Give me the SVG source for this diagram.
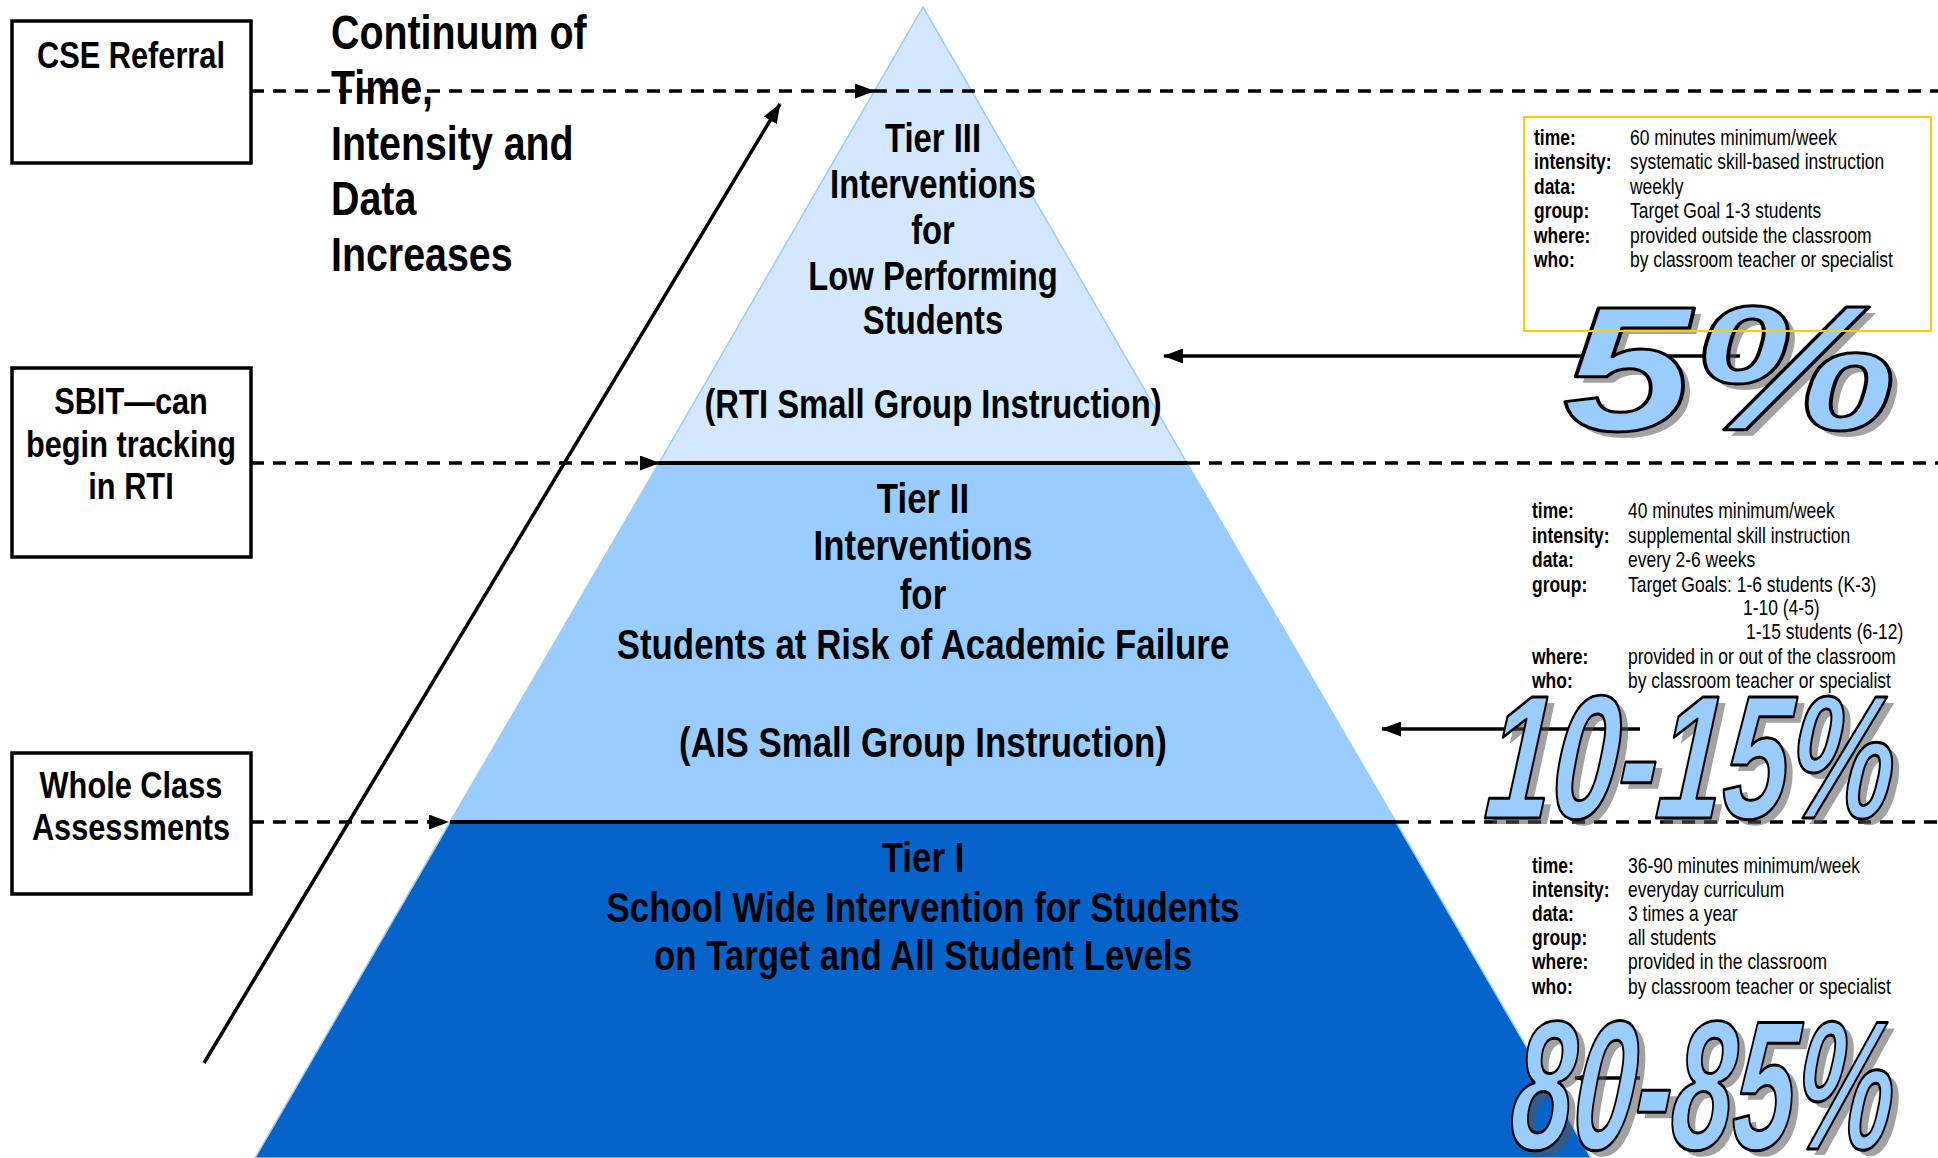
<svg xmlns="http://www.w3.org/2000/svg" width="1938" height="1158" viewBox="0 0 1938 1158">
<style>
.bx{fill:#fff;stroke:#000;stroke-width:3.5}
.bt{font-family:"Liberation Sans Narrow","Liberation Sans",Arial,sans-serif;font-weight:bold;font-size:37.5px;text-anchor:middle;fill:#000}
.ct{font-family:"Liberation Sans Narrow","Liberation Sans",Arial,sans-serif;font-weight:bold;font-size:48px;fill:#000}
.t3{font-family:"Liberation Sans Narrow","Liberation Sans",Arial,sans-serif;font-weight:bold;font-size:40px;text-anchor:middle;fill:#000}
.tt{font-family:"Liberation Sans Narrow","Liberation Sans",Arial,sans-serif;font-weight:bold;font-size:42.5px;text-anchor:middle;fill:#000}
.il{font-family:"Liberation Sans Narrow","Liberation Sans",Arial,sans-serif;font-weight:bold;font-size:21.3px;fill:#000}
.iv{font-family:"Liberation Sans Narrow","Liberation Sans",Arial,sans-serif;font-size:21.3px;fill:#000}
.dash{stroke:#000;stroke-width:3.5;stroke-dasharray:13 9;fill:none}
.sol{stroke:#000;stroke-width:4;fill:none}
.arr{stroke:#000;stroke-width:3.5;fill:none}
.pc{font-family:"Liberation Sans",Arial,sans-serif;font-weight:bold;font-style:italic;fill:#99CCFF;stroke:#000;stroke-width:3;stroke-linejoin:round}
.pcs{font-family:"Liberation Sans",Arial,sans-serif;font-weight:bold;font-style:italic;fill:#555;fill-opacity:0.55}
</style>
<defs>
<marker id="ah" markerWidth="20" markerHeight="15" refX="19" refY="7.5" orient="auto" markerUnits="userSpaceOnUse">
<path d="M0,0 L20,7.5 L0,15 Z" fill="#000"/>
</marker>
</defs>
<rect width="1938" height="1158" fill="#fff"/>

<g id="pyramid">
<polygon id="tier3" points="923,7 1187,463 659,463" fill="#D4E8FD" stroke="#99CCFF" stroke-width="1.5"/>
<polygon id="tier2" points="659,463 1187,463 1396,822 450,822" fill="#99CCFF" stroke="#99CCFF" stroke-width="1.5"/>
<polygon id="tier1" points="450,822 1396,822 1591,1158 255,1158" fill="#0563C9" stroke="#99CCFF" stroke-width="1.5"/>
</g>

<g id="connectors">
<line class="dash" x1="251" y1="91" x2="874" y2="91" marker-end="url(#ah)"/>
<line class="dash" x1="874" y1="91" x2="1938" y2="91"/>
<line class="dash" x1="251" y1="463" x2="659" y2="463" marker-end="url(#ah)"/>
<line class="sol" x1="659" y1="463" x2="1187" y2="463"/>
<line class="dash" x1="1187" y1="463" x2="1938" y2="463"/>
<line class="dash" x1="251" y1="822" x2="448" y2="822" marker-end="url(#ah)"/>
<line class="sol" x1="450" y1="822" x2="1396" y2="822"/>
<line class="dash" x1="1396" y1="822" x2="1938" y2="822"/>
<line class="arr" x1="204" y1="1063" x2="780" y2="104" marker-end="url(#ah)"/>
<line class="arr" x1="1740" y1="356" x2="1164" y2="356" marker-end="url(#ah)"/>
<line class="arr" x1="1640" y1="729" x2="1382" y2="729" marker-end="url(#ah)"/>
<line class="arr" x1="1640" y1="1078" x2="1575" y2="1078" marker-end="url(#ah)"/>
</g>

<g id="tier3-text">
<text class="t3" transform="translate(933 152) scale(0.82 1)">Tier III</text>
<text class="t3" transform="translate(933 198) scale(0.82 1)">Interventions</text>
<text class="t3" transform="translate(933 244) scale(0.82 1)">for</text>
<text class="t3" transform="translate(933 290) scale(0.82 1)">Low Performing</text>
<text class="t3" transform="translate(933 334) scale(0.82 1)">Students</text>
<text class="t3" transform="translate(933 418) scale(0.82 1)">(RTI Small Group Instruction)</text>
</g>
<g id="tier2-text">
<text class="tt" transform="translate(923 513) scale(0.82 1)">Tier II</text>
<text class="tt" transform="translate(923 560) scale(0.82 1)">Interventions</text>
<text class="tt" transform="translate(923 609) scale(0.82 1)">for</text>
<text class="tt" transform="translate(923 659) scale(0.82 1)">Students at Risk of Academic Failure</text>
<text class="tt" transform="translate(923 757) scale(0.82 1)">(AIS Small Group Instruction)</text>
</g>
<g id="tier1-text">
<text class="tt" transform="translate(923 872) scale(0.82 1)">Tier I</text>
<text class="tt" transform="translate(923 922) scale(0.82 1)">School Wide Intervention for Students</text>
<text class="tt" transform="translate(923 970) scale(0.82 1)">on Target and All Student Levels</text>
</g>

<g id="pct5">
<text class="pcs" x="1570" y="436" font-size="178" textLength="334" lengthAdjust="spacingAndGlyphs">5%</text>
<text class="pc" x="1563" y="430" font-size="178" textLength="334" lengthAdjust="spacingAndGlyphs">5%</text>
</g>
<g id="pct10">
<text class="pcs" transform="translate(1490 824) skewX(-5)" font-size="176" textLength="408" lengthAdjust="spacingAndGlyphs">10-15%</text>
<text class="pc" transform="translate(1483 818) skewX(-5)" font-size="176" textLength="408" lengthAdjust="spacingAndGlyphs">10-15%</text>
</g>
<g id="pct80">
<text class="pcs" transform="translate(1515 1155) skewX(-5)" font-size="184" textLength="382" lengthAdjust="spacingAndGlyphs">80-85%</text>
<text class="pc" transform="translate(1508 1149) skewX(-5)" font-size="184" textLength="382" lengthAdjust="spacingAndGlyphs">80-85%</text>
</g>

<g id="info3">
<rect x="1524" y="117" width="407" height="214" fill="none" stroke="#FFCC00" stroke-width="2"/>
<text class="il" transform="translate(1534 145) scale(0.82 1)">time:</text><text class="iv" transform="translate(1630 145) scale(0.82 1)">60 minutes minimum/week</text>
<text class="il" transform="translate(1534 169) scale(0.82 1)">intensity:</text><text class="iv" transform="translate(1630 169) scale(0.82 1)">systematic skill-based instruction</text>
<text class="il" transform="translate(1534 194) scale(0.82 1)">data:</text><text class="iv" transform="translate(1630 194) scale(0.82 1)">weekly</text>
<text class="il" transform="translate(1534 218) scale(0.82 1)">group:</text><text class="iv" transform="translate(1630 218) scale(0.82 1)">Target Goal 1-3 students</text>
<text class="il" transform="translate(1534 243) scale(0.82 1)">where:</text><text class="iv" transform="translate(1630 243) scale(0.82 1)">provided outside the classroom</text>
<text class="il" transform="translate(1534 267) scale(0.82 1)">who:</text><text class="iv" transform="translate(1630 267) scale(0.82 1)">by classroom teacher or specialist</text>
</g>
<g id="info2">
<text class="il" transform="translate(1532 518) scale(0.82 1)">time:</text><text class="iv" transform="translate(1628 518) scale(0.82 1)">40 minutes minimum/week</text>
<text class="il" transform="translate(1532 543) scale(0.82 1)">intensity:</text><text class="iv" transform="translate(1628 543) scale(0.82 1)">supplemental skill instruction</text>
<text class="il" transform="translate(1532 567) scale(0.82 1)">data:</text><text class="iv" transform="translate(1628 567) scale(0.82 1)">every 2-6 weeks</text>
<text class="il" transform="translate(1532 592) scale(0.82 1)">group:</text><text class="iv" transform="translate(1628 592) scale(0.82 1)">Target Goals: 1-6 students (K-3)</text>
<text class="iv" transform="translate(1743 615) scale(0.82 1)">1-10 (4-5)</text>
<text class="iv" transform="translate(1746 639) scale(0.82 1)">1-15 students (6-12)</text>
<text class="il" transform="translate(1532 664) scale(0.82 1)">where:</text><text class="iv" transform="translate(1628 664) scale(0.82 1)">provided in or out of the classroom</text>
<text class="il" transform="translate(1532 688) scale(0.82 1)">who:</text><text class="iv" transform="translate(1628 688) scale(0.82 1)">by classroom teacher or specialist</text>
</g>
<g id="info1">
<text class="il" transform="translate(1532 873) scale(0.82 1)">time:</text><text class="iv" transform="translate(1628 873) scale(0.82 1)">36-90 minutes minimum/week</text>
<text class="il" transform="translate(1532 897) scale(0.82 1)">intensity:</text><text class="iv" transform="translate(1628 897) scale(0.82 1)">everyday curriculum</text>
<text class="il" transform="translate(1532 921) scale(0.82 1)">data:</text><text class="iv" transform="translate(1628 921) scale(0.82 1)">3 times a year</text>
<text class="il" transform="translate(1532 945) scale(0.82 1)">group:</text><text class="iv" transform="translate(1628 945) scale(0.82 1)">all students</text>
<text class="il" transform="translate(1532 969) scale(0.82 1)">where:</text><text class="iv" transform="translate(1628 969) scale(0.82 1)">provided in the classroom</text>
<text class="il" transform="translate(1532 994) scale(0.82 1)">who:</text><text class="iv" transform="translate(1628 994) scale(0.82 1)">by classroom teacher or specialist</text>
</g>

<g id="continuum">
<text class="ct" transform="translate(331 49) scale(0.82 1)">Continuum of</text>
<text class="ct" transform="translate(331 104) scale(0.82 1)">Time,</text>
<text class="ct" transform="translate(331 160) scale(0.82 1)">Intensity and</text>
<text class="ct" transform="translate(331 215) scale(0.82 1)">Data</text>
<text class="ct" transform="translate(331 271) scale(0.82 1)">Increases</text>
</g>

<g id="cse-referral">
<rect class="bx" x="12" y="21" width="239" height="142"/>
<text class="bt" transform="translate(131 68) scale(0.82 1)">CSE Referral</text>
</g>
<g id="sbit">
<rect class="bx" x="12" y="368" width="239" height="189"/>
<text class="bt" transform="translate(131 414) scale(0.82 1)">SBIT—can</text>
<text class="bt" transform="translate(131 457) scale(0.82 1)">begin tracking</text>
<text class="bt" transform="translate(131 499) scale(0.82 1)">in RTI</text>
</g>
<g id="whole-class">
<rect class="bx" x="12" y="753" width="239" height="141"/>
<text class="bt" transform="translate(131 798) scale(0.82 1)">Whole Class</text>
<text class="bt" transform="translate(131 840) scale(0.82 1)">Assessments</text>
</g>
</svg>
